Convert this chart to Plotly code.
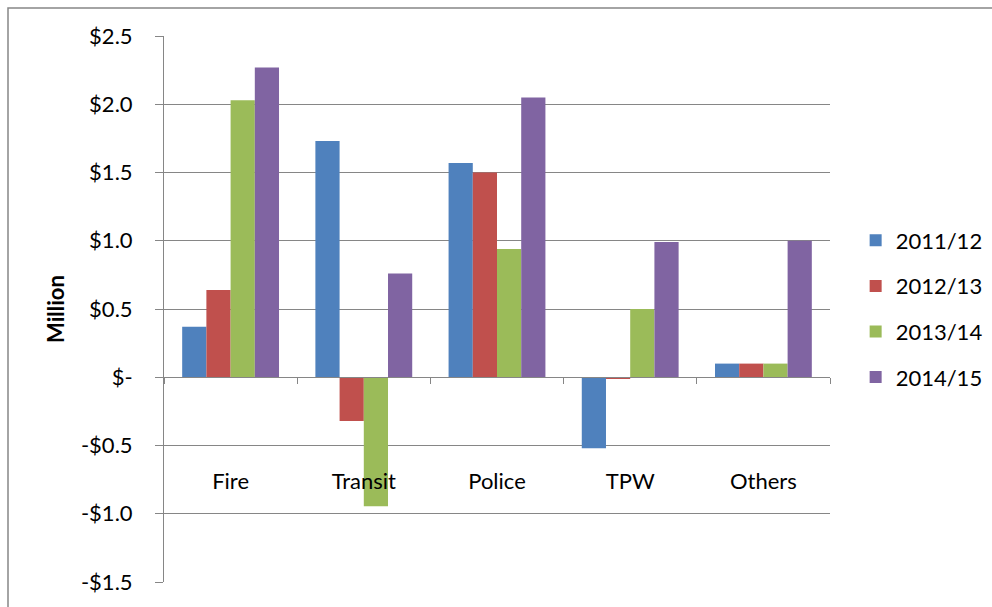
import plotly.graph_objects as go

categories = ["Fire", "Transit", "Police", "TPW", "Others"]
series_names = ["2011/12", "2012/13", "2013/14", "2014/15"]
v_2011_12 = [0.37, 1.73, 1.57, -0.52, 0.10]
v_2012_13 = [0.64, -0.32, 1.50, -0.01, 0.10]
v_2013_14 = [2.03, -0.945, 0.94, 0.50, 0.10]
v_2014_15 = [2.27, 0.76, 2.05, 0.99, 1.00]
colors = ["#4F81BD", "#C0504D", "#9BBB59", "#8064A2"]
y_tickvals = [-1.5, -1.0, -0.5, 0.0, 0.5, 1.0, 1.5, 2.0, 2.5]
y_ticktext = ["-$1.5", "-$1.0", "-$0.5", "$-", "$0.5", "$1.0", "$1.5", "$2.0", "$2.5"]

FONT = "Lato, Carlito, Calibri, sans-serif"
GRID = "#868686"
FS = 22

fig = go.Figure()
for name, vals, col in zip(series_names, [v_2011_12, v_2012_13, v_2013_14, v_2014_15], colors):
    fig.add_trace(go.Bar(x=categories, y=vals, name=name, marker_color=col,
                         marker_line_width=0, legendgroup=name))

ymin, ymax = -1.5, 2.5
fig.update_layout(
    width=992, height=607,
    margin=dict(l=164, r=162, t=36, b=25, autoexpand=False),
    paper_bgcolor="white", plot_bgcolor="white",
    barmode="group", bargap=0.273, bargroupgap=0,
    font=dict(family=FONT, size=FS, color="black"),
    showlegend=True,
    legend=dict(x=1.0385, xanchor="left", y=0.5, yanchor="middle",
                font=dict(size=FS, family=FONT), tracegroupgap=14,
                itemwidth=30, bgcolor="rgba(0,0,0,0)"),
    yaxis=dict(range=[ymin, ymax], tickvals=y_tickvals, ticktext=y_ticktext,
               showgrid=True, gridcolor=GRID, gridwidth=1,
               showline=True, linecolor=GRID, linewidth=1,
               ticks="outside", ticklen=8, tickcolor=GRID,
               zeroline=False, ticklabelstandoff=18,
               title=dict(text="<b>Million</b>", font=dict(size=FS, family=FONT), standoff=10),
               tickfont=dict(size=FS)),
    xaxis=dict(type="category", anchor="free", position=(0 - ymin) / (ymax - ymin),
               showline=True, linecolor=GRID, linewidth=1,
               ticks="outside", tickson="boundaries", ticklen=6, tickcolor=GRID,
               showgrid=False, ticklabelstandoff=84,
               tickfont=dict(size=FS)),
    shapes=[dict(type="rect", xref="paper", yref="paper",
                 x0=(8 - 164) / 666, x1=2, y0=-1, y1=(582 - 8) / 546,
                 line=dict(color=GRID, width=1.5), fillcolor="rgba(0,0,0,0)", layer="below")],
)

fig.write_html("out.html")
